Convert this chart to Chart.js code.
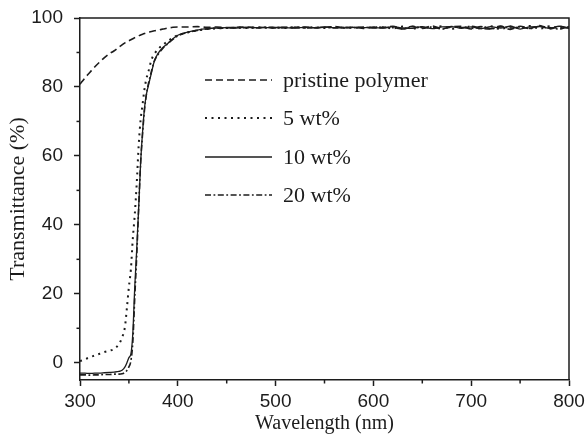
<!DOCTYPE html>
<html>
<head>
<meta charset="utf-8">
<script src="https://cdn.jsdelivr.net/npm/chart.js@4/dist/chart.umd.min.js"></script>
<style>
  html, body { margin: 0; padding: 0; background: #fff; }
  #wrap { width: 586px; height: 437px; }
</style>
</head>
<body>
<div id="wrap"><canvas id="c" width="586" height="437"></canvas></div>
<script>
// Wavelength grid (nm)
const wavelengths = [300,305,310,315,320,325,330,335,340,343,346,348,350,352,354,356,358,360,362,364,366,368,370,373,376,380,385,390,395,400,
  410,420,430,440,450,460,470,480,490,500,510,520,530,540,550,560,570,580,590,600,
  610,620,630,640,650,660,670,680,690,700,710,720,730,740,750,760,770,780,790,800];

// Transmittance (%) for each film
const pristine = [80.8,82.6,84.2,85.8,87.2,88.5,89.6,90.5,91.6,92.2,92.8,93.1,93.4,93.7,94.0,94.3,94.6,94.8,95.1,95.3,95.5,95.7,95.9,96.1,96.3,96.5,96.8,97.1,97.3,97.4,
  97.4,97.5,97.3,97.4,97.2,97.3,97.4,97.2,97.3,97.1,97.3,97.2,97.4,97.1,97.3,97.5,97.2,97.3,97.0,97.4,
  97.2,97.6,96.8,97.5,97.0,97.7,96.9,97.4,97.6,96.8,97.5,96.9,97.7,96.7,97.6,97.0,97.8,96.8,97.5,97.1];
const wt5 = [0.5,1.0,1.6,2.1,2.6,3.1,3.5,4.0,5.5,7.3,10.5,16,22,27,36,43,52,63,70.5,75,79.5,82.5,84.5,87.8,89.5,91.0,92.3,93.3,94.3,95.0,
  95.8,96.4,96.8,97.0,97.1,97.2,97.1,97.3,97.2,97.2,97.1,97.3,97.2,97.3,97.1,97.4,97.2,97.2,97.1,97.3,
  97.3,97.0,97.5,96.9,97.4,97.1,97.6,96.9,97.4,97.1,97.0,97.6,96.8,97.5,97.1,97.7,96.9,97.6,97.0,97.4];
const wt10 = [-3.0,-3.0,-3.1,-3.0,-3.0,-2.9,-2.8,-2.7,-2.5,-2.2,-1.2,0,1.5,2.5,8.5,22,33,45,58,67,74,78,80.5,84,87.5,89.8,91.5,92.7,94.0,95.0,
  95.9,96.5,96.9,97.1,97.2,97.1,97.3,97.2,97.2,97.3,97.2,97.1,97.3,97.2,97.4,97.2,97.1,97.3,97.2,97.2,
  97.1,97.5,97.1,97.0,97.5,96.9,97.4,97.5,97.0,97.4,96.9,97.5,97.1,97.6,96.8,97.4,97.5,97.0,97.6,96.9];
const wt20 = [-3.5,-3.5,-3.6,-3.5,-3.5,-3.4,-3.4,-3.3,-3.3,-3.2,-2.8,-2.2,-1.2,0.5,6,19,31,45,58,66.5,73.5,78,81,84.5,87.5,89.5,91.3,92.6,93.8,94.8,
  95.8,96.4,96.8,97.0,97.1,97.2,97.2,97.1,97.3,97.2,97.2,97.3,97.1,97.2,97.3,97.1,97.3,97.2,97.4,97.1,
  97.3,97.2,96.9,97.6,97.1,97.4,96.8,97.5,97.2,97.6,97.0,96.8,97.5,97.1,97.4,96.9,97.6,97.2,96.8,97.5];

const seriesNames = ['pristine polymer', '5 wt%', '10 wt%', '20 wt%'];
const xTickLabels = [300, 400, 500, 600, 700, 800];
const yTickLabels = [0, 20, 40, 60, 80, 100];

const ink = '#1c1c1c';
const serif = '"Liberation Serif", "Times New Roman", serif';
const sans = '"Liberation Sans", Arial, sans-serif';

function pts(vals) { return wavelengths.map((w, i) => ({ x: w, y: vals[i] })); }

const styles = [
  { dash: [7, 4], width: 1.6 },
  { dash: [2, 4.5], width: 2 },
  { dash: [], width: 1.3 },
  { dash: [6, 2.5, 1.8, 2.5], width: 1.6 }
];
const seriesValues = [pristine, wt5, wt10, wt20];

const datasets = seriesValues.map((vals, i) => ({
  label: seriesNames[i],
  data: pts(vals),
  borderColor: ink,
  borderWidth: styles[i].width,
  borderDash: styles[i].dash,
  borderCapStyle: 'butt',
  pointRadius: 0,
  fill: false,
  cubicInterpolationMode: 'monotone'
}));

// Frame, minor ticks and in-plot legend
const decor = {
  id: 'decor',
  afterDraw(chart) {
    const { ctx, chartArea: a, scales } = chart;
    ctx.save();
    ctx.strokeStyle = ink;
    ctx.lineWidth = 1.5;
    ctx.beginPath();
    ctx.moveTo(a.left, a.top); ctx.lineTo(a.right, a.top); ctx.lineTo(a.right, a.bottom);
    ctx.stroke();

    // minor ticks
    [350, 450, 550, 650, 750].forEach(v => {
      const x = scales.x.getPixelForValue(v);
      ctx.beginPath(); ctx.moveTo(x, a.bottom); ctx.lineTo(x, a.bottom + 3.5); ctx.stroke();
    });
    [10, 30, 50, 70, 90].forEach(v => {
      const y = scales.y.getPixelForValue(v);
      ctx.beginPath(); ctx.moveTo(a.left, y); ctx.lineTo(a.left - 3.5, y); ctx.stroke();
    });

    // legend
    const lx0 = 205, lx1 = 272, tx = 283;
    const ys = [80, 118, 157, 195];
    ctx.font = '22px ' + serif;
    ctx.fillStyle = ink;
    ctx.textBaseline = 'middle';
    chart.data.datasets.forEach((ds, i) => {
      ctx.setLineDash(ds.borderDash);
      ctx.lineWidth = ds.borderWidth;
      ctx.beginPath(); ctx.moveTo(lx0, ys[i]); ctx.lineTo(lx1, ys[i]); ctx.stroke();
      ctx.setLineDash([]);
      ctx.fillText(ds.label, tx, ys[i] + 1);
    });
    ctx.restore();
  }
};

new Chart(document.getElementById('c'), {
  type: 'line',
  data: { datasets },
  options: {
    responsive: false,
    animation: false,
    layout: { padding: { left: 0, top: 18, right: 17, bottom: 0 } },
    plugins: { legend: { display: false }, tooltip: { enabled: false } },
    scales: {
      x: {
        type: 'linear',
        min: 300, max: 800,
        afterFit(s) { s.height = 57; s.paddingLeft = 0; s.paddingRight = 0; },
        border: { display: true, color: ink, width: 1.5 },
        grid: { drawOnChartArea: false, drawTicks: true, tickLength: 6, color: ink, tickWidth: 1.5 },
        ticks: {
          stepSize: 100, padding: 4, color: ink,
          font: { family: sans, size: 19 },
          includeBounds: false,
          callback: v => xTickLabels.includes(v) ? String(v) : ''
        },
        title: {
          display: true, text: 'Wavelength (nm)', color: ink,
          font: { family: serif, size: 20 }, padding: { top: 0, bottom: 1 }
        }
      },
      y: {
        type: 'linear',
        min: -5, max: 100,
        afterFit(s) { s.width = 80; s.paddingTop = 0; s.paddingBottom = 0; },
        border: { display: true, color: ink, width: 1.5 },
        grid: { drawOnChartArea: false, drawTicks: true, tickLength: 6, color: ink, tickWidth: 1.5 },
        ticks: {
          stepSize: 20, padding: 11, color: ink,
          font: { family: sans, size: 19 },
          includeBounds: false,
          callback: v => yTickLabels.includes(v) ? String(v) : ''
        },
        title: {
          display: true, text: 'Transmittance (%)', color: ink,
          font: { family: serif, size: 22 }, padding: { top: 5, bottom: 0 }
        }
      }
    }
  },
  plugins: [decor]
});
</script>
</body>
</html>
